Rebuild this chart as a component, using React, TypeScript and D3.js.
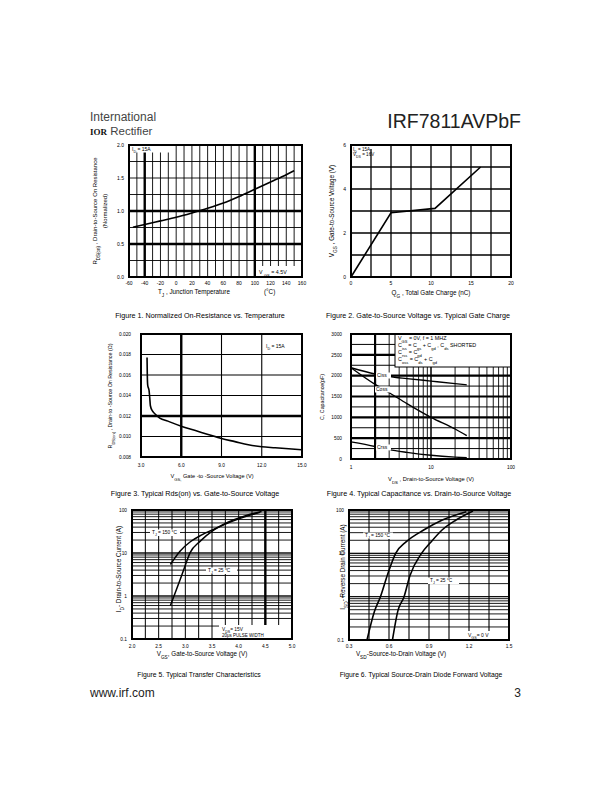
import React from "react";
import * as d3 from "d3";

const FONT = "'Liberation Sans', Arial, Helvetica, sans-serif";

// ---------- Figure 1 ----------
const fig1Temp = [-55, -40, -20, 0, 20, 40, 60, 80, 100, 120, 140, 150];
const fig1Rds = [0.755, 0.795, 0.85, 0.905, 0.97, 1.04, 1.12, 1.22, 1.33, 1.44, 1.55, 1.61];
const fig1XTicks = [-60, -40, -20, 0, 20, 40, 60, 80, 100, 120, 140, 160];
const fig1YTicks = [0, 0.5, 1.0, 1.5, 2.0];

// ---------- Figure 2 ----------
const fig2Charge = [0, 5, 10.5, 16.2];
const fig2Vgs = [0, 2.92, 3.12, 5.0];
const fig2XTicks = [0, 5, 10, 15, 20];
const fig2YTicks = [0, 2, 4, 6];

// ---------- Figure 3 ----------
const fig3Vgs = [3.45, 3.47, 3.5, 3.6, 3.65, 3.7, 3.85, 4.05, 4.4, 5, 6, 7, 8, 9, 10, 11, 12, 13, 14, 15];
const fig3Rds = [0.0177, 0.016, 0.015, 0.0145, 0.0138, 0.013, 0.0125, 0.0122, 0.0118, 0.0115, 0.011, 0.0106, 0.0102, 0.0098, 0.0095, 0.0092, 0.009, 0.0089, 0.0088, 0.0087];
const fig3XTicks = ["3.0", "6.0", "9.0", "12.0", "15.0"];
const fig3YTicks = ["0.008", "0.010", "0.012", "0.014", "0.016", "0.018", "0.020"];

// ---------- Figure 4 ----------
const fig4Vds = [1, 2, 3, 5, 10, 20, 28];
const fig4Ciss = [2190, 2040, 1980, 1930, 1870, 1810, 1780];
const fig4Coss = [2190, 1790, 1590, 1330, 1000, 720, 560];
const fig4Crss = [410, 300, 225, 160, 90, 45, 30];
const fig4XTicks = [1, 10, 100];
const fig4YTicks = [0, 500, 1000, 1500, 2000, 2500, 3000];

// ---------- Figure 5 ----------
const fig5V150 = [2.72, 2.9, 3.1, 3.3, 3.53, 3.75, 4.03, 4.2, 4.4];
const fig5I150 = [5.4, 11, 18.5, 26, 35.5, 47, 64, 75, 88];
const fig5V25 = [2.72, 2.8, 2.9, 3.0, 3.09, 3.27, 3.53, 3.8, 4.1, 4.43];
const fig5I25 = [0.6, 1.1, 2.35, 5.2, 10.2, 18.4, 34, 52, 72, 92];
const fig5XTicks = ["2.0", "2.5", "3.0", "3.5", "4.0", "4.5", "5.0"];
const logYTicks = ["0.1", "1", "10", "100"];

// ---------- Figure 6 ----------
const fig6V150 = [0.435, 0.49, 0.536, 0.59, 0.65, 0.73, 0.86, 1.0, 1.18];
const fig6I150 = [0.1, 0.45, 1.0, 3.3, 10, 18.6, 34.5, 58.8, 91.5];
const fig6V25 = [0.626, 0.668, 0.713, 0.756, 0.844, 0.906, 1.0, 1.1, 1.23];
const fig6I25 = [0.1, 0.49, 1.0, 3.0, 10, 17, 35, 58, 95];
const fig6XTicks = ["0.3", "0.6", "0.9", "1.2", "1.5"];

const Txt = ({ x, y, size = 5.5, anchor = "start", rot = false, children, fill = "#000", weight }: any) => (
  <text
    x={x}
    y={y}
    fontSize={size}
    textAnchor={anchor}
    fontFamily={FONT}
    fill={fill}
    fontWeight={weight}
    transform={rot ? `rotate(-90 ${x} ${y})` : undefined}
  >
    {children}
  </text>
);
const Sub = ({ children }: any) => (
  <tspan fontSize="75%" baselineShift="sub">
    {children}
  </tspan>
);

const LINE = "#000";

function logMinor(lo: number, hi: number) {
  const out: number[] = [];
  for (let d = lo; d < hi; d *= 10) {
    for (let k = 1; k <= 9; k++) {
      const v = +(d * k).toPrecision(3);
      if (v > lo && v < hi) out.push(v);
    }
  }
  return out;
}

function Fig1() {
  const x = d3.scaleLinear().domain([-60, 160]).range([129, 302]);
  const y = d3.scaleLinear().domain([0, 2]).range([277, 145]);
  const line = d3.line<number>().x((_, i) => x(fig1Temp[i])).y((d) => y(d)).curve(d3.curveMonotoneX);
  const verts = d3.range(-50, 160, 10);
  const hors = d3.range(0.25, 2, 0.25);
  return (
    <g>
      {hors.map((v) => (
        <line key={"h" + v} x1={x(-60)} x2={x(160)} y1={y(v)} y2={y(v)} stroke={LINE} strokeWidth={v === 0.5 || v === 1 ? 2.4 : 0.9} />
      ))}
      {verts.map((v) => (
        <line
          key={"v" + v}
          x1={x(v)}
          x2={x(v)}
          y1={v < 0 ? 152.5 : y(2)}
          y2={v > 100 ? 266 : y(0)}
          stroke={LINE}
          strokeWidth={v === -40 || v === 100 ? 2.4 : 0.9}
        />
      ))}
      <path d={line(fig1Rds) || ""} fill="none" stroke="#000" strokeWidth={1.6} />
      <rect x={129} y={145} width={173} height={132} fill="none" stroke="#000" strokeWidth={2} />
      <Txt x={132} y={150.5} size={5}>
        I<Sub>D</Sub> = 15A
      </Txt>
      <Txt x={259} y={274} size={5.3}>
        V <Sub>GS</Sub> = 4.5V
      </Txt>
      {fig1YTicks.map((t) => (
        <Txt key={t} x={124} y={y(t) + 1.8} size={5} anchor="end">
          {t.toFixed(1)}
        </Txt>
      ))}
      {fig1XTicks.map((t) => (
        <Txt key={t} x={x(t)} y={285} size={5} anchor="middle">
          {t}
        </Txt>
      ))}
      <Txt x={97} y={211} size={6} anchor="middle" rot>
        R<Sub>DS(on)</Sub> , Drain-to-Source On Resistance
      </Txt>
      <Txt x={107} y={211} size={6} anchor="middle" rot>
        (Normalized)
      </Txt>
      <Txt x={158} y={293.5} size={6.3}>
        T<Sub>J</Sub> , Junction Temperature
      </Txt>
      <Txt x={264} y={293.5} size={6.3}>
        (°C)
      </Txt>
      <Txt x={200} y={318} size={7.2} anchor="middle">
        Figure 1. Normalized On-Resistance vs. Temperature
      </Txt>
    </g>
  );
}

function Fig2() {
  const x = d3.scaleLinear().domain([0, 20]).range([351, 511]);
  const y = d3.scaleLinear().domain([0, 6]).range([277, 145]);
  const line = d3.line<number>().x((_, i) => x(fig2Charge[i])).y((d) => y(d));
  return (
    <g>
      {d3.range(1, 6).map((v) => (
        <line key={"h" + v} x1={x(0)} x2={x(20)} y1={y(v)} y2={y(v)} stroke={LINE} strokeWidth={1.3} />
      ))}
      {d3.range(2.5, 20, 2.5).map((v) => (
        <line key={"v" + v} x1={x(v)} x2={x(v)} y1={v === 2.5 ? 149 : y(6)} y2={y(0)} stroke={LINE} strokeWidth={1.3} />
      ))}
      <rect x={352} y={146} width={18} height={14} fill="#fff" />
      <path d={line(fig2Vgs) || ""} fill="none" stroke="#000" strokeWidth={1.6} />
      <rect x={351} y={145} width={160} height={132} fill="none" stroke="#000" strokeWidth={2} />
      <Txt x={353} y={150.5} size={4.6}>
        I<Sub>D</Sub> = 15A
      </Txt>
      <Txt x={353} y={156} size={4.6}>
        V<Sub>DS</Sub> = 16V
      </Txt>
      {fig2YTicks.map((t) => (
        <Txt key={t} x={346} y={y(t) + 1.8} size={5} anchor="end">
          {t}
        </Txt>
      ))}
      {fig2XTicks.map((t) => (
        <Txt key={t} x={x(t)} y={285} size={5} anchor="middle">
          {t}
        </Txt>
      ))}
      <Txt x={334} y={211} size={6.3} anchor="middle" rot>
        V<Sub>GS</Sub> , Gate-to-Source Voltage (V)
      </Txt>
      <Txt x={431} y={294.5} size={6.3} anchor="middle">
        Q<Sub>G</Sub> , Total Gate Charge (nC)
      </Txt>
      <Txt x={418} y={318} size={7.2} anchor="middle">
        Figure 2. Gate-to-Source Voltage vs. Typical Gate Charge
      </Txt>
    </g>
  );
}

function Fig3() {
  const x = d3.scaleLinear().domain([3, 15]).range([141, 302]);
  const y = d3.scaleLinear().domain([0.008, 0.02]).range([457, 334]);
  const line = d3.line<number>().x((_, i) => x(fig3Vgs[i])).y((d) => y(d)).curve(d3.curveMonotoneX);
  return (
    <g>
      {[0.01, 0.012, 0.014, 0.016, 0.018].map((v) => (
        <line key={"h" + v} x1={x(3)} x2={x(15)} y1={y(v)} y2={y(v)} stroke={LINE} strokeWidth={v === 0.012 ? 2.4 : 1.1} />
      ))}
      {[6, 9, 12].map((v) => (
        <line key={"v" + v} x1={x(v)} x2={x(v)} y1={y(0.02)} y2={y(0.008)} stroke={LINE} strokeWidth={v === 6 ? 2.4 : 1.1} />
      ))}
      <path d={line(fig3Rds) || ""} fill="none" stroke="#000" strokeWidth={1.6} />
      <rect x={141} y={334} width={161} height={123} fill="none" stroke="#000" strokeWidth={2} />
      <Txt x={266} y={348} size={5}>
        I<Sub>D</Sub> = 15A
      </Txt>
      {fig3YTicks.map((t) => (
        <Txt key={t} x={131} y={y(+t) + 1.8} size={4.8} anchor="end">
          {t}
        </Txt>
      ))}
      {fig3XTicks.map((t) => (
        <Txt key={t} x={x(+t)} y={467} size={4.8} anchor="middle">
          {t}
        </Txt>
      ))}
      <Txt x={112} y={396} size={5.3} anchor="middle" rot>
        R<Sub>DS(on)</Sub> , Drain-to -Source On Resistance (Ω)
      </Txt>
      <Txt x={212} y={478} size={5.6} anchor="middle">
        V<Sub>GS,</Sub> Gate -to -Source Voltage (V)
      </Txt>
      <Txt x={195} y={496} size={7.2} anchor="middle">
        Figure 3. Typical Rds(on) vs. Gate-to-Source Voltage
      </Txt>
    </g>
  );
}

function Fig4() {
  const x = d3.scaleLog().domain([1, 100]).range([351, 511]);
  const y = d3.scaleLinear().domain([0, 3000]).range([459, 334]);
  const mk = (vals: number[]) =>
    d3.line<number>().x((_, i) => x(fig4Vds[i])).y((d) => y(d)).curve(d3.curveMonotoneX)(vals) || "";
  const verts = [2, 3, 4, 5, 6, 7, 8, 9, 10, 20, 30, 40, 50, 60, 70, 80, 90];
  const boxLbl = (label: string, bx: number, by: number) => (
    <g>
      <rect x={bx} y={by - 4.5} width={15} height={6} fill="#fff" />
      <Txt x={bx + 1} y={by} size={5}>
        {label}
      </Txt>
    </g>
  );
  return (
    <g>
      {d3.range(250, 3000, 250).map((v) => (
        <line key={"h" + v} x1={x(1)} x2={x(100)} y1={y(v)} y2={y(v)} stroke={LINE} strokeWidth={v % 500 === 0 ? 2.2 : 1} />
      ))}
      {verts.map((v) => (
        <line key={"v" + v} x1={x(v)} x2={x(v)} y1={y(3000)} y2={y(0)} stroke={LINE} strokeWidth={v === 2 ? 2.2 : v === 10 ? 1.5 : 0.9} />
      ))}
      <path d={mk(fig4Ciss)} fill="none" stroke="#000" strokeWidth={1.4} />
      <path d={mk(fig4Coss)} fill="none" stroke="#000" strokeWidth={1.4} />
      <path d={mk(fig4Crss)} fill="none" stroke="#000" strokeWidth={1.4} />
      {boxLbl("Ciss", 376, 377)}
      {boxLbl("Coss", 375, 391)}
      {boxLbl("Crss", 376, 449)}
      <rect x={395} y={334} width={116} height={33} fill="#fff" stroke="#000" strokeWidth={1} />
      <rect x={351} y={334} width={160} height={125} fill="none" stroke="#000" strokeWidth={2} />
      <Txt x={398} y={339.5} size={5.4}>
        V<Sub>GS</Sub>  = 0V,    f = 1 MHZ
      </Txt>
      <Txt x={398} y={346.5} size={5.4}>
        C<Sub>iss</Sub>  = C<Sub>gs</Sub> + C<Sub>gd</Sub> , C<Sub>ds</Sub>  SHORTED
      </Txt>
      <Txt x={398} y={353.5} size={5.4}>
        C<Sub>rss</Sub>  = C<Sub>gd</Sub>
      </Txt>
      <Txt x={398} y={360.5} size={5.4}>
        C<Sub>oss</Sub>  = C<Sub>ds</Sub> + C<Sub>gd</Sub>
      </Txt>
      {fig4YTicks.map((t) => (
        <Txt key={t} x={342} y={y(t) + 1.8} size={4.8} anchor="end">
          {t}
        </Txt>
      ))}
      {fig4XTicks.map((t) => (
        <Txt key={t} x={x(t)} y={469} size={4.8} anchor="middle">
          {t}
        </Txt>
      ))}
      <Txt x={324} y={397} size={5.3} anchor="middle" rot>
        C, Capacitance(pF)
      </Txt>
      <Txt x={431} y={481} size={5.8} anchor="middle">
        V<Sub>DS</Sub> , Drain-to-Source Voltage (V)
      </Txt>
      <Txt x={419} y={496} size={7.2} anchor="middle">
        Figure 4. Typical Capacitance vs. Drain-to-Source Voltage
      </Txt>
    </g>
  );
}

function TjBox({ x, y, t }: any) {
  return (
    <g>
      <rect x={x} y={y - 4.5} width={t === "150" ? 30 : 31} height={6.5} fill="#fff" />
      <Txt x={x + 2} y={y} size={4.8}>
        T<Sub>J</Sub> = {t} °C
      </Txt>
    </g>
  );
}

function Fig5() {
  const x = d3.scaleLinear().domain([2, 5]).range([132, 292]);
  const y = d3.scaleLog().domain([0.1, 100]).range([639, 510]);
  const l150 = d3.line<number>().x((_, i) => x(fig5V150[i])).y((d) => y(d)).curve(d3.curveMonotoneX);
  const l25 = d3.line<number>().x((_, i) => x(fig5V25[i])).y((d) => y(d)).curve(d3.curveMonotoneX);
  const hors = [...logMinor(0.1, 100), 1, 10];
  return (
    <g>
      {hors.map((v) => (
        <line key={"h" + v} x1={x(2)} x2={y(v) > 624 ? 219 : x(5)} y1={y(v)} y2={y(v)} stroke={LINE} strokeWidth={0.9} />
      ))}
      {d3.range(2.25, 5, 0.25).map((v) => (
        <line key={"v" + v} x1={x(v)} x2={x(v)} y1={y(100)} y2={x(v) > 219 ? 625 : y(0.1)} stroke={LINE} strokeWidth={v === 4.5 ? 2.4 : 1} />
      ))}
      <path d={l150(fig5I150) || ""} fill="none" stroke="#000" strokeWidth={1.5} />
      <path d={l25(fig5I25) || ""} fill="none" stroke="#000" strokeWidth={1.5} />
      <TjBox x={150} y={534} t="150" />
      <TjBox x={206} y={572} t="25" />
      <rect x={132} y={510} width={160} height={129} fill="none" stroke="#000" strokeWidth={2} />
      <Txt x={222} y={630.5} size={4.8}>
        V<Sub>DS</Sub>= 15V
      </Txt>
      <Txt x={222} y={636.5} size={4.5}>
        20μs PULSE WIDTH
      </Txt>
      {logYTicks.map((t) => (
        <Txt key={t} x={127} y={y(+t) + 1.8} size={4.8} anchor="end">
          {t}
        </Txt>
      ))}
      {fig5XTicks.map((t) => (
        <Txt key={t} x={x(+t)} y={648} size={4.8} anchor="middle">
          {t}
        </Txt>
      ))}
      <Txt x={121} y={569} size={6.3} anchor="middle" rot>
        I<Sub>D</Sub>- Drain-to-Source Current (A)
      </Txt>
      <Txt x={202} y={656} size={6.3} anchor="middle">
        V<Sub>GS</Sub>, Gate-to-Source Voltage (V)
      </Txt>
      <Txt x={199} y={677} size={6.8} anchor="middle">
        Figure 5. Typical Transfer Characteristics
      </Txt>
    </g>
  );
}

function Fig6() {
  const x = d3.scaleLinear().domain([0.3, 1.5]).range([349, 509]);
  const y = d3.scaleLog().domain([0.1, 100]).range([640, 510]);
  const l150 = d3.line<number>().x((_, i) => x(fig6V150[i])).y((d) => y(d)).curve(d3.curveMonotoneX);
  const l25 = d3.line<number>().x((_, i) => x(fig6V25[i])).y((d) => y(d)).curve(d3.curveMonotoneX);
  const hors = [...logMinor(0.1, 100), 1, 10];
  return (
    <g>
      {hors.map((v) => (
        <line key={"h" + v} x1={x(0.3)} x2={y(v) > 630 ? 465 : x(1.5)} y1={y(v)} y2={y(v)} stroke={LINE} strokeWidth={0.9} />
      ))}
      {d3.range(0.45, 1.4, 0.15).map((v) => (
        <line key={"v" + v} x1={x(v)} x2={x(v)} y1={y(100)} y2={x(v) > 465 ? 631 : y(0.1)} stroke={LINE} strokeWidth={1.1} />
      ))}
      <path d={l150(fig6I150) || ""} fill="none" stroke="#000" strokeWidth={1.6} />
      <path d={l25(fig6I25) || ""} fill="none" stroke="#000" strokeWidth={1.6} />
      <TjBox x={363} y={537} t="150" />
      <TjBox x={428} y={582} t="25" />
      <rect x={349} y={510} width={160} height={130} fill="none" stroke="#000" strokeWidth={2} />
      <Txt x={468} y={637} size={5}>
        V<Sub>GS</Sub>= 0 V
      </Txt>
      {logYTicks.map((t) => (
        <Txt key={t} x={344} y={y(+t) + 1.8} size={4.8} anchor="end">
          {t}
        </Txt>
      ))}
      {fig6XTicks.map((t) => (
        <Txt key={t} x={x(+t)} y={648} size={4.8} anchor="middle">
          {t}
        </Txt>
      ))}
      <Txt x={345} y={567} size={6.3} anchor="middle" rot>
        I<Sub>SD</Sub>- Reverse Drain Current (A)
      </Txt>
      <Txt x={401} y={656} size={6.3} anchor="middle">
        V<Sub>SD</Sub>-Source-to-Drain Voltage (V)
      </Txt>
      <Txt x={421} y={677} size={6.8} anchor="middle">
        Figure 6. Typical Source-Drain Diode Forward Voltage
      </Txt>
    </g>
  );
}

export default function App() {
  return (
    <svg
      width={612}
      height={792}
      viewBox="0 0 612 792"
      style={{ position: "absolute", left: 0, top: 0, background: "#fff" }}
    >
      <rect x={0} y={0} width={612} height={792} fill="#fff" />
      <Txt x={90} y={121} size={12} fill="#444">
        International
      </Txt>
      <Txt x={90} y={134.5} size={9} weight="bold" fill="#111">
        <tspan fontFamily="'Liberation Serif', serif" fontSize={9}>IOR</tspan>
        <tspan fontSize={11.5} fontWeight="normal" fill="#444"> Rectifier</tspan>
      </Txt>
      <Txt x={521} y={128} size={19.5} anchor="end" fill="#222">
        IRF7811AVPbF
      </Txt>
      <Fig1 />
      <Fig2 />
      <Fig3 />
      <Fig4 />
      <Fig5 />
      <Fig6 />
      <Txt x={90} y={697} size={12} fill="#222">
        www.irf.com
      </Txt>
      <Txt x={521} y={697} size={12} anchor="end" fill="#222">
        3
      </Txt>
    </svg>
  );
}
